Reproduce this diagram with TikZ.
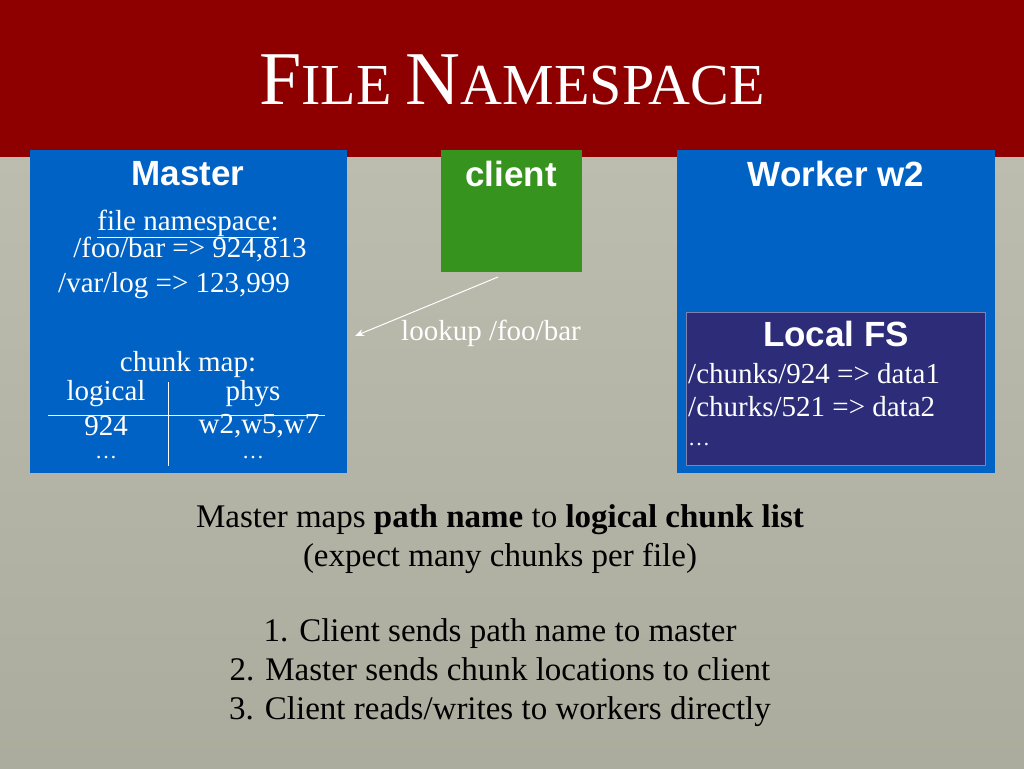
\documentclass[tikz,border=0pt]{standalone}
\usepackage{fontspec}
\setmainfont{Liberation Serif}
\newfontfamily\hsans{Liberation Sans}
\usetikzlibrary{arrows.meta}
\begin{document}
\begin{tikzpicture}[x=1pt,y=-1pt,
  hd/.style={text=white,font=\hsans\bfseries\fontsize{35}{36}\selectfont},
  bt/.style={text=white,font=\fontsize{29}{30}\selectfont,inner sep=0pt},
  bot/.style={text=black,font=\fontsize{33}{39}\selectfont,align=center}]
\definecolor{bg}{HTML}{B5B5A6}
\definecolor{tred}{HTML}{8E0000}
\definecolor{mblue}{HTML}{0062C4}
\definecolor{cgreen}{HTML}{35931E}
\definecolor{navy}{HTML}{2C2C78}
\useasboundingbox (0,0) rectangle (1024,768);
\shade[top color=bg!85!white, bottom color=bg!95!black] (0,0) rectangle (1024,768);
\fill[tred] (0,0) rectangle (1024,157);
\node[text=white,font=\fontsize{58}{60}\selectfont] (title) at (512,80)
  {{\fontsize{76}{76}\selectfont F}ILE {\fontsize{76}{76}\selectfont N}AMESPACE};
\fill[mblue] (30,150) rectangle (347,473);
\fill[cgreen] (441,150) rectangle (582,272);
\fill[mblue] (677,150) rectangle (995,473);
\draw[navy!60!white,fill=navy] (686,312) rectangle (985,465);
\node[hd] (m) at (188,174) {Master};
\node[hd] (c) at (511,174) {client};
\node[hd] (w) at (836,174) {Worker w2};
\node[hd] (lfs) at (836,334) {Local FS};
\node[bt] (fn) at (188,224) {\underline{file namespace:}};
\node[bt] (f1) at (190,250) {/foo/bar => 924,813};
\node[bt,anchor=west] (f2) at (58,286) {/var/log => 123,999};
\node[bt] (cm) at (188,365) {chunk map:};
\node[bt] (lg) at (106,394) {logical};
\node[bt] (ph) at (253,394) {phys};
\node[bt] (v1) at (106,426) {924};
\node[bt] (v2) at (259,426) {w2,w5,w7};
\node[bt,font=\fontsize{22}{22}\selectfont] (d1) at (106,458) {\dots};
\node[bt,font=\fontsize{22}{22}\selectfont] (d2) at (253,458) {\dots};
\draw[white,line width=1pt] (48,415) -- (325,415);
\draw[white,line width=1pt] (168,382) -- (168,466);
\node[bt,anchor=west] (l1) at (688,374) {/chunks/924 => data1};
\node[bt,anchor=west] (l2) at (688,407) {/churks/521 => data2};
\node[bt,anchor=west,font=\fontsize{22}{22}\selectfont] (l3) at (688,445) {\dots};
\coordinate (a0) at (498,277);
\coordinate (a1) at (355,336);
\draw[white,line width=1pt,-{Stealth[length=9pt,width=7pt]}] (a0) -- (a1);
\node[bt] (lk) at (491,333) {lookup /foo/bar};
\node[bot] (t1) at (500,539) {Master maps \textbf{path name} to \textbf{logical chunk list}\\(expect many chunks per file)};
\node[bot] (t2) at (500,673) {1. Client sends path name to master\\2. Master sends chunk locations to client\\3. Client reads/writes to workers directly};
\end{tikzpicture}
\end{document}
